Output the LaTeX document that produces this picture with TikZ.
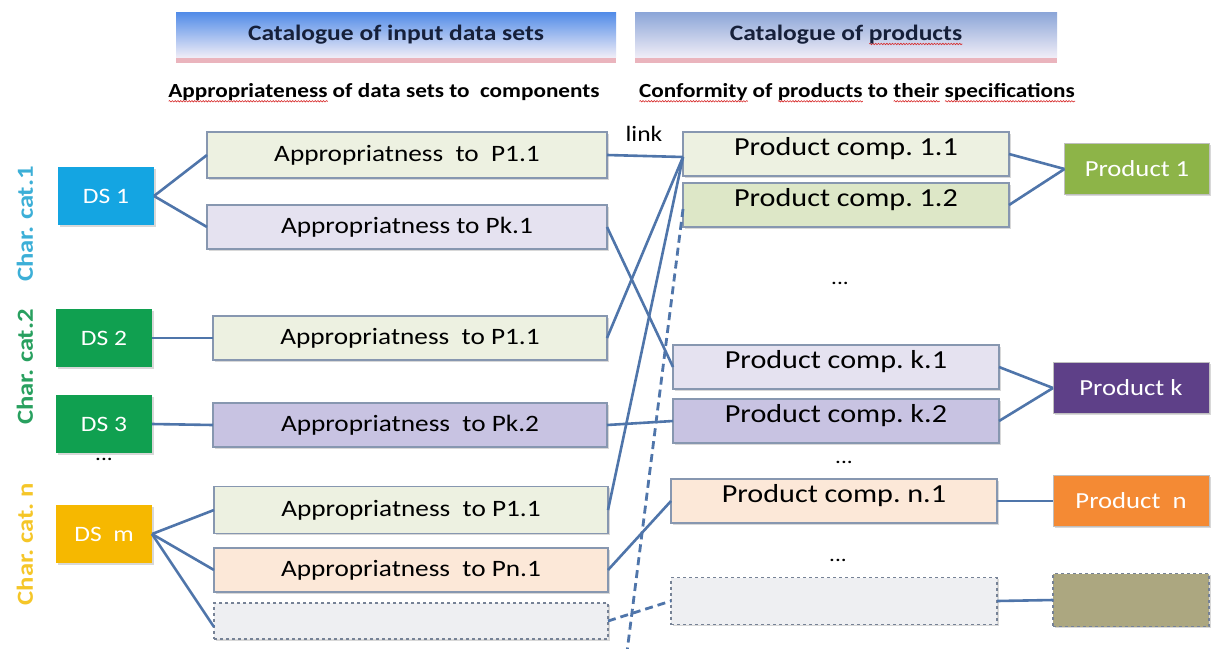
\documentclass[tikz,border=0pt]{standalone}
\usepackage{fontspec}
\setmainfont{Carlito}[FakeStretch=1.16]
\usepackage{tikz}
\usetikzlibrary{positioning,shadows,decorations.pathmorphing}

\definecolor{wire}{RGB}{79,117,170}
\definecolor{rim}{RGB}{135,151,176}
\definecolor{dashrim}{RGB}{118,130,150}
\definecolor{textnavy}{RGB}{22,32,58}
\definecolor{dscyan}{RGB}{20,165,226}
\definecolor{dsgreen}{RGB}{16,160,80}
\definecolor{dsyellow}{RGB}{246,184,0}
\definecolor{catcyan}{RGB}{60,175,215}
\definecolor{catgreen}{RGB}{40,160,95}
\definecolor{catyellow}{RGB}{245,198,40}
\definecolor{fillsage}{RGB}{237,241,225}
\definecolor{fillsage2}{RGB}{221,231,199}
\definecolor{filllilac}{RGB}{229,226,240}
\definecolor{fillpurple}{RGB}{200,195,226}
\definecolor{fillpeach}{RGB}{252,232,216}
\definecolor{fillgrey}{RGB}{238,239,242}
\definecolor{prodgreen}{RGB}{141,180,72}
\definecolor{prodpurple}{RGB}{94,64,136}
\definecolor{prodorange}{RGB}{244,138,52}
\definecolor{prodkhaki}{RGB}{172,167,128}
\definecolor{headblue}{RGB}{82,140,232}
\definecolor{headblue2}{RGB}{140,166,216}
\definecolor{headpale}{RGB}{240,237,247}
\definecolor{headpink}{RGB}{232,172,182}
\definecolor{spellred}{RGB}{215,40,40}

% red squiggle under a word
\newsavebox\wavebox
\newlength\wavelen
\newcommand\spellwave[1]{\sbox\wavebox{#1}\setlength\wavelen{\wd\wavebox}%
  \rlap{\raisebox{-4.5pt}{\tikz[x=1pt,y=1pt]\draw[spellred, line width=0.6pt, decorate,
    decoration={snake, amplitude=0.7pt, segment length=2.8pt}] (0,0) -- (\wavelen,0);}}\usebox\wavebox}

\tikzset{
  conn/.style={draw=wire, line width=2.6pt},
  dashconn/.style={conn, line width=2.8pt, dash pattern=on 8pt off 5pt},
  boxshade/.style={drop shadow={shadow xshift=1.5pt, shadow yshift=-1.5pt, opacity=0.3, fill=black!50}},
  dsbox/.style={rectangle, boxshade, minimum width=96pt, minimum height=58pt, outer sep=0pt, text=white, font=\fontsize{22}{26}\selectfont},
  appbox/.style={rectangle, draw=rim, line width=1.5pt, boxshade, minimum width=394pt, minimum height=44pt, outer sep=0pt, font=\fontsize{23.5}{27}\selectfont},
  compbox/.style={appbox, minimum width=326pt, text depth=16pt, font=\fontsize{26}{30}\selectfont},
  emptybox/.style={rectangle, draw=dashrim, dashed, line width=1.5pt, fill=fillgrey, boxshade, minimum height=36pt, outer sep=0pt},
  prodbox/.style={rectangle, draw=black!25, line width=1pt, boxshade, minimum width=156pt, minimum height=51pt, outer sep=0pt, text=white, font=\fontsize{23}{27}\selectfont},
  headbox/.style={rectangle, minimum height=45pt, text=textnavy, font=\bfseries\fontsize{22}{26}\selectfont,
    drop shadow={shadow xshift=0pt, shadow yshift=-5pt, fill=headpink, opacity=0.9}},
  subhead/.style={font=\bfseries\fontsize{20}{24}\selectfont},
  catlabel/.style={rotate=90, font=\bfseries\fontsize{23}{26}\selectfont},
  ellip/.style={font=\fontsize{20}{24}\selectfont}
}

\begin{document}
\frenchspacing
\begin{tikzpicture}[x=1pt, y=-1pt]
  \path[use as bounding box, fill=white] (0,0) rectangle (1217,648);

  % catalogue headers
  \node[headbox, minimum width=440pt, top color=headblue, bottom color=headpale] (hd1) at (396,35) {Catalogue of input data sets};
  \node[headbox, minimum width=422pt, top color=headblue2, bottom color=headpale] (hd2) at (846,35) {Catalogue of \spellwave{products}};
  \node[subhead] (sub1) at (384,93) {\spellwave{Appropriateness} of data sets to~ components};
  \node[subhead] (sub2) at (857,93) {\spellwave{Conformity} of \spellwave{products} to \spellwave{their} \spellwave{specifications}};

  \node[catlabel, text=catcyan] (cat1) at (25,224) {Char. cat.1};
  \node[catlabel, text=catgreen] (cat2) at (25,367) {Char. cat.2};
  \node[catlabel, text=catyellow] (catn) at (25,544) {Char. cat. n};

  % data sets
  \node[dsbox, fill=dscyan] (ds1) at (106,196) {DS 1};
  \node[dsbox, fill=dsgreen] (ds2) at (104,338) {DS 2};
  \node[dsbox, fill=dsgreen] (ds3) at (104,424) {DS 3};
  \node[ellip] (dsdots) at (104,459) {...};
  \node[dsbox, fill=dsyellow] (dsm) at (104,534) {DS~ m};

  % appropriateness checks
  \node[appbox, fill=fillsage, minimum width=400pt, minimum height=46pt] (ap1) at (407,155) {Appropriatness~ to~ P1.1};
  \node[appbox, fill=filllilac, minimum width=400pt] (ap2) at (407,227) {Appropriatness to Pk.1};
  \node[appbox, fill=fillsage] (ap3) at (410,338) {Appropriatness~ to P1.1};
  \node[appbox, fill=fillpurple] (ap4) at (410,425) {Appropriatness~ to Pk.2};
  \node[appbox, fill=fillsage, minimum height=47pt] (ap5) at (411,510) {Appropriatness~ to P1.1};
  \node[appbox, fill=fillpeach] (ap6) at (411,570) {Appropriatness~ to Pn.1};
  \node[emptybox, minimum width=394pt] (ap7) at (411,621) {};

  % product components
  \node[font=\fontsize{22}{26}\selectfont] (linktxt) at (644,134) {link};
  \node[compbox, fill=fillsage] (pc11) at (846,154) {Product comp. 1.1};
  \node[compbox, fill=fillsage2] (pc12) at (846,205) {Product comp. 1.2};
  \node[ellip] (pcdots1) at (840,283) {...};
  \node[compbox, fill=filllilac] (pck1) at (836,367) {Product comp. k.1};
  \node[compbox, fill=fillpurple] (pck2) at (836,421) {Product comp. k.2};
  \node[ellip] (pcdots2) at (844,462) {...};
  \node[compbox, fill=fillpeach] (pcn1) at (834,501) {Product comp. n.1};
  \node[ellip] (pcdots3) at (838,560) {...};
  \node[emptybox, minimum width=326pt, minimum height=47pt] (pcx) at (834,601) {};

  % products
  \node[prodbox, fill=prodgreen, minimum width=145pt] (pr1) at (1137,169) {Product 1};
  \node[prodbox, fill=prodpurple] (prk) at (1131,388) {Product k};
  \node[prodbox, fill=prodorange] (prn) at (1131,501) {Product~ n};
  \node[emptybox, fill=prodkhaki, minimum width=156pt, minimum height=53pt] (prx) at (1131,600) {};

  % data sets to checks
  \draw[conn] (ds1.east) -- (ap1.west);
  \draw[conn] (ds1.east) -- (ap2.west);
  \draw[conn] (ds2.east) -- (ap3.west);
  \draw[conn] (ds3.east) -- (ap4.west);
  \draw[conn] (dsm.east) -- (ap5.west);
  \draw[conn] (dsm.east) -- (ap6.west);
  \draw[conn] (dsm.east) -- ([yshift=-6pt]ap7.west);

  % checks to components
  \draw[conn] (ap1.east) -- ([yshift=-3pt]pc11.west);
  \draw[conn] (ap2.east) -- (pck1.west);
  \draw[conn] (ap3.east) -- ([yshift=-3pt]pc11.west);
  \draw[conn] (ap4.east) -- (pck2.west);
  \draw[conn] (ap5.east) -- ([yshift=-3pt]pc11.west);
  \draw[conn] (ap6.east) -- (pcn1.west);
  \draw[dashconn] (ap7.east) -- (pcx.west);
  \coordinate (dashend) at (627,652);
  \draw[dashconn] ([yshift=-4pt]pc12.west) -- (dashend);

  % components to products
  \draw[conn] (pc11.east) -- (pr1.west);
  \draw[conn] (pc12.east) -- (pr1.west);
  \draw[conn] (pck1.east) -- (prk.west);
  \draw[conn] (pck2.east) -- (prk.west);
  \draw[conn] (pcn1.east) -- (prn.west);
  \draw[conn] (pcx.east) -- (prx.west);
\end{tikzpicture}
\end{document}
